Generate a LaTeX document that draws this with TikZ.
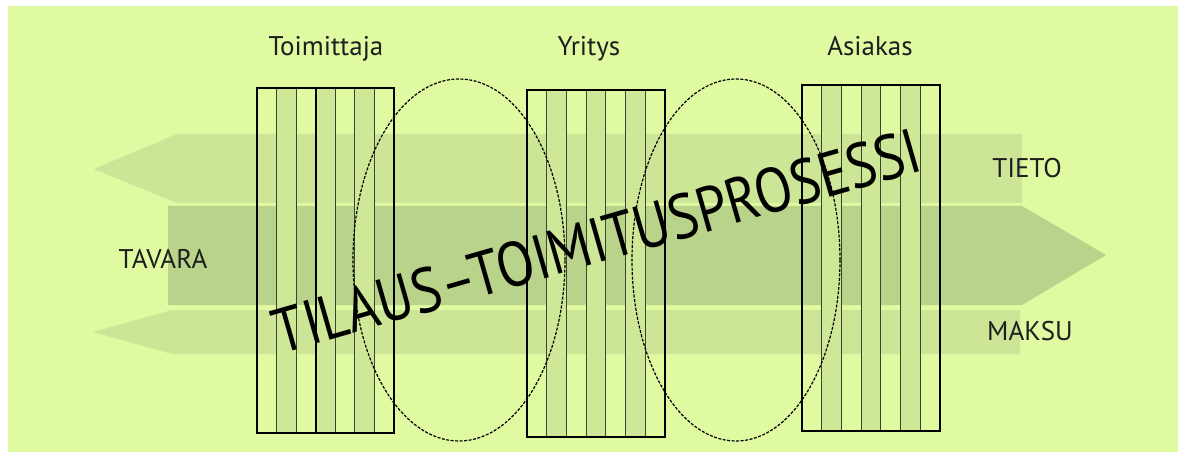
\documentclass[tikz,border=0pt]{standalone}
\usepackage{fontspec}
\setmainfont{PT Sans}
\usepackage{graphicx}
\usetikzlibrary{shapes.geometric}
\definecolor{bg}{HTML}{DFFAA1}
\definecolor{arrowlight}{HTML}{CCE597}
\definecolor{arrowdark}{HTML}{B9D38B}
\definecolor{colshade}{HTML}{CFE898}
\definecolor{linecol}{HTML}{3A4530}
\definecolor{txt}{HTML}{1E1E1E}
\tikzset{
  lab/.style={font=\fontsize{27}{27}\selectfont, text=txt, inner sep=0pt, anchor=base},
  frame/.style={draw=black, line width=1.6pt, inner sep=0pt},
  innerline/.style={draw=linecol, line width=1.1pt},
  oval/.style={draw=black, line width=1.2pt, dash pattern=on 3pt off 1.5pt},
}
\begin{document}
\begin{tikzpicture}[x=1pt,y=-1pt]
\useasboundingbox (0,0) rectangle (1186,473);
\fill[white] (0,0) rectangle (1186,473);
\fill[bg] (8,6) rectangle (1178,452);
% arrows
\fill[arrowlight] (1022,134) -- (177,134) -- (94,169) -- (177,203) -- (1022,203) -- cycle;
\fill[arrowdark] (168,206) -- (1022,206) -- (1106,255) -- (1022,305) -- (168,305) -- cycle;
\fill[arrowlight] (1020,310) -- (172,310) -- (93,332) -- (172,354) -- (1020,354) -- cycle;
% boxes
\foreach \l/\t/\r/\b/\n in {257/88/394/433/b1, 527/90/665/437/b2, 802/85/940/431/b3}{
  \pgfmathsetmacro\w{(\r-\l)/7}
  \foreach \k in {1,3,5}{
    \fill[colshade] ({\l+\k*\w},\t) rectangle ({\l+(\k+1)*\w},\b);
  }
  \foreach \k in {1,...,6}{
    \draw[innerline] ({\l+\k*\w},\t) -- ({\l+\k*\w},\b);
  }
  \node[frame, minimum width={(\r-\l)*1pt}, minimum height={(\b-\t)*1pt}] (\n) at ({(\l+\r)/2},{(\t+\b)/2}) {};
}
\draw[black, line width=1.6pt] ([xshift={-(137/14)*1pt}]b1.north) -- ([xshift={-(137/14)*1pt}]b1.south);
% ellipses
\node[oval, ellipse, minimum width=212pt, minimum height=362pt, inner sep=0pt] (e1) at (459,260) {};
\node[oval, ellipse, minimum width=208pt, minimum height=362pt, inner sep=0pt] (e2) at (736,260) {};
% labels
\node[lab] (toim) at (326,56) {Toimittaja};
\node[lab] (yri) at (589,56) {Yritys};
\node[lab] (asi) at (870,56) {Asiakas};
\node[lab] (tieto) at (1027,178) {TIETO};
\node[lab] (tavara) at (163,269) {TAVARA};
\node[lab] (maksu) at (1030,340) {MAKSU};
% big text
\node[inner sep=0pt, anchor=base, rotate=16, text=black, font=\fontsize{63}{63}\selectfont] (proc) at (603,262) {\scalebox{0.87}[1]{TILAUS–TOIMITUSPROSESSI}};
\end{tikzpicture}
\end{document}
